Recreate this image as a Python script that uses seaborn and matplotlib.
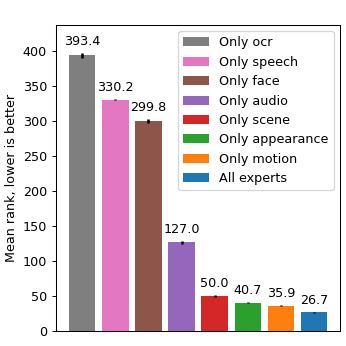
import matplotlib
matplotlib.use("Agg")
import matplotlib.pyplot as plt
import seaborn as sns
import pandas as pd
from matplotlib.patches import Patch

labels = ["Only ocr", "Only speech", "Only face", "Only audio",
          "Only scene", "Only appearance", "Only motion", "All experts"]
means = [393.4, 330.2, 299.8, 127.0, 50.0, 40.7, 35.9, 26.7]
errs = [3.0, 1.0, 3.0, 2.0, 1.0, 0.7, 0.7, 1.0]
colors = ["tab:gray", "tab:pink", "tab:brown", "tab:purple",
          "tab:red", "tab:green", "tab:orange", "tab:blue"]

df = pd.DataFrame({"name": labels, "rank": means})

DPI = 92
fig, ax = plt.subplots(figsize=(346 / DPI, 346 / DPI), dpi=DPI)
sns.barplot(data=df, x="name", y="rank", hue="name", palette=colors,
            order=labels, hue_order=labels, errorbar=None, legend=False,
            width=0.8, saturation=1, ax=ax)
xs = list(range(len(labels)))
ax.errorbar(xs, means, yerr=errs, fmt="none", ecolor="black", elinewidth=2, capsize=0)
for x, m, e in zip(xs, means, errs):
    ax.annotate(f"{m:.1f}", (x, m + e), xytext=(0, 4), textcoords="offset points",
                ha="center", va="bottom", fontsize=10)
ax.set_xticks([])
ax.set_xlabel("")
ax.set_ylabel("Mean rank, lower is better", fontsize=10)
ax.set_ylim(0, 437)
ax.set_xlim(-0.79, 7.79)
handles = [Patch(facecolor=c) for c in colors]
ax.legend(handles, labels, loc="upper right", fontsize=10)
fig.subplots_adjust(left=0.162, right=0.983, top=0.928, bottom=0.043)
fig.savefig("out.png", dpi=DPI)
